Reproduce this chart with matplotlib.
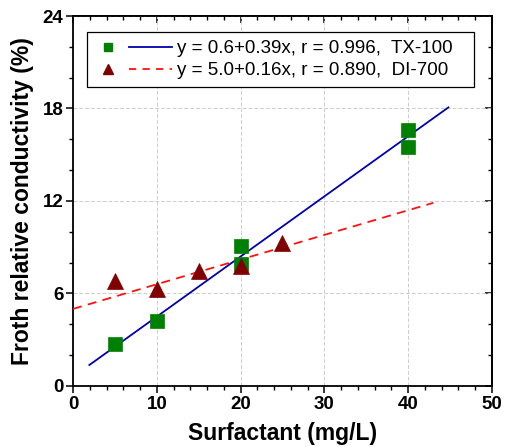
import numpy as np
import matplotlib

matplotlib.use("Agg")
import matplotlib.pyplot as plt
from matplotlib.lines import Line2D
from matplotlib.ticker import MultipleLocator

plt.rcParams["font.family"] = ["Liberation Sans", "DejaVu Sans"]

# measured froth conductivity vs surfactant dose
tx_conc = [5, 10, 20, 20, 40, 40]
tx_cond = [2.7, 4.2, 9.06, 7.93, 16.6, 15.5]
di_conc = [5, 10, 15, 20, 25]
di_cond = [6.8, 6.3, 7.43, 7.8, 9.3]

# linear fits: intercept, slope, r, and the x span drawn
tx_fit = (0.6, 0.39, 0.996)
di_fit = (5.0, 0.16, 0.890)
tx_span = (1.95, 44.8)
di_span = (0.0, 43.0)

x_ticks = [0, 10, 20, 30, 40, 50]
y_ticks = [0, 6, 12, 18, 24]


class MarkerThenLine:
    """Legend handle: the data marker on the left, the fit line beside it."""

    def legend_artist(self, legend, orig_handle, fontsize, handlebox):
        mk, ln = orig_handle
        x0, y0 = handlebox.xdescent, handlebox.ydescent
        w, h = handlebox.width, handlebox.height
        tr = handlebox.get_transform()
        m = Line2D([x0 + 0.17 * w], [y0 + h / 2], marker=mk.get_marker(),
                   ms=mk.get_markersize(), color=mk.get_color(), ls="none",
                   transform=tr)
        l = Line2D([x0 + 0.44 * w, x0 + w], [y0 + h / 2] * 2,
                   color=ln.get_color(), lw=ln.get_linewidth(),
                   ls=ln.get_linestyle(), transform=tr)
        if ln.get_linestyle() != "-":
            l.set_dashes((4, 3.5))
        handlebox.add_artist(l)
        handlebox.add_artist(m)
        return l


fig = plt.figure(figsize=(5.06, 4.47), dpi=100)
ax = fig.add_axes([0.1443, 0.1365, 0.828, 0.8277])

ax.grid(True, color="#cccccc", lw=0.7, ls=(0, (4, 2)))
ax.set_axisbelow(True)

xs = np.linspace(*tx_span, 2)
ln_tx, = ax.plot(xs, tx_fit[0] + tx_fit[1] * xs, color="#0000b0", lw=1.3, zorder=3)
xs = np.linspace(*di_span, 2)
ln_di, = ax.plot(xs, di_fit[0] + di_fit[1] * xs, color="#ff1010", lw=1.3,
                 ls=(0, (5, 3.5)), zorder=3)

ax.plot(tx_conc, tx_cond, "s", ms=10.4, color="#008000", mec="#008000",
        mew=0.5, ls="none", zorder=4)
ax.plot(di_conc, di_cond, "^", ms=11.8, color="#800000", mec="#800000",
        mew=0.5, ls="none", zorder=4)

ax.set_xlim(0, 50)
ax.set_ylim(0, 24)
ax.set_xticks(x_ticks)
ax.set_yticks(y_ticks)
ax.xaxis.set_minor_locator(MultipleLocator(2))
ax.yaxis.set_minor_locator(MultipleLocator(2))
ax.tick_params(which="major", direction="out", length=5, width=1.1,
               labelsize=13.5, pad=2)
ax.tick_params(which="minor", direction="out", length=3, width=1.0)
for lbl in ax.get_xticklabels() + ax.get_yticklabels():
    lbl.set_fontweight("bold")

# inward ticks on the opposite sides
top = ax.secondary_xaxis("top")
top.set_xticks(x_ticks)
top.xaxis.set_minor_locator(MultipleLocator(2))
top.tick_params(which="major", direction="in", length=5, width=1.1, labeltop=False)
top.tick_params(which="minor", direction="in", length=3, width=1.0)
right = ax.secondary_yaxis("right")
right.set_yticks(y_ticks)
right.yaxis.set_minor_locator(MultipleLocator(2))
right.tick_params(which="major", direction="in", length=5, width=1.1, labelright=False)
right.tick_params(which="minor", direction="in", length=3, width=1.0)
for sp in list(ax.spines.values()) + [top.spines["top"], right.spines["right"]]:
    sp.set_linewidth(1.3)

ax.set_xlabel("Surfactant (mg/L)", fontsize=16.5, fontweight="bold", labelpad=7)
ax.set_ylabel("Froth relative conductivity (%)", fontsize=16.5, fontweight="bold",
              labelpad=6)

labels = [
    f"y = {tx_fit[0]:.1f}+{tx_fit[1]:.2f}x, r = {tx_fit[2]:.3f},  TX-100",
    f"y = {di_fit[0]:.1f}+{di_fit[1]:.2f}x, r = {di_fit[2]:.3f},  DI-700",
]
mk_tx_leg = Line2D([], [], marker="s", ms=5.4, color="#008000")
mk_di_leg = Line2D([], [], marker="^", ms=7.8, color="#800000")
leg = ax.legend(
    [(mk_tx_leg, ln_tx), (mk_di_leg, ln_di)], labels,
    handler_map={tuple: MarkerThenLine()},
    loc="upper left", bbox_to_anchor=(0.033, 0.957, 0.924, 0.0), mode="expand",
    borderaxespad=0, fontsize=13.5, handlelength=4.1, handletextpad=0.27,
    labelspacing=0.27, borderpad=0.43, fancybox=False, framealpha=1,
    edgecolor="black",
)
leg.get_frame().set_linewidth(0.9)

fig.savefig("out.png", dpi=100)
